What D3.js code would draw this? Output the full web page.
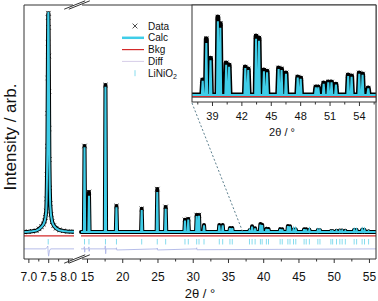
<!DOCTYPE html>
<html>
<head>
<meta charset="utf-8">
<script src="https://cdn.jsdelivr.net/npm/d3@7"></script>
<style>
  body { margin: 0; background: #fff; }
  svg { display: block; font-family: "Liberation Sans", Arial, sans-serif; }
</style>
</head>
<body>
<svg id="chart" width="378" height="301"></svg>
<script>
'use strict';

// low-angle window around the (003) reflection
var lowTheta = [6.89, 7.00, 7.10, 7.20, 7.27, 7.33, 7.38, 7.41, 7.43, 7.45, 7.46, 7.47, 7.48, 7.485, 7.49, 7.495,
  7.50, 7.505, 7.51, 7.515, 7.52, 7.525, 7.53, 7.54, 7.55, 7.57, 7.60, 7.64, 7.70, 7.78, 7.88, 7.98, 8.15];
var lowObs = [0, 1, 3, 6, 14, 24, 36, 50, 66, 95, 150, 260, 390, 540, 700, 860,
  975, 995, 930, 800, 640, 470, 330, 200, 130, 80, 46, 29, 17, 9, 5, 2, 1];
var lowCalc = [0, 1, 3, 6, 13, 22, 34, 48, 64, 92, 145, 250, 380, 530, 690, 850,
  985, 1000, 925, 790, 630, 460, 320, 195, 125, 77, 44, 28, 16, 8, 4, 2, 1];
var lowDiffTheta = [6.89, 7.44, 7.47, 7.49, 7.50, 7.51, 7.53, 7.56, 8.15];
var lowDiff = [-77, -77, -70, -64, -95, -110, -86, -77, -77];

// main window reflections: position, observed and calculated peak height
var peakPos = [14.65, 15.28, 17.62, 19.18, 22.76, 24.97, 26.16, 28.90, 29.37, 30.56, 30.89, 31.60,
  33.77, 34.25, 35.28, 35.61, 38.05, 38.42, 38.85, 39.60, 39.85, 40.45, 40.75, 42.40, 42.70,
  43.50, 43.80, 44.30, 44.62, 45.80, 46.10, 46.55, 47.75, 48.05, 49.60, 49.85, 50.40, 50.87,
  51.20, 51.65, 52.90, 53.25, 54.03, 54.37, 54.95];
var peakObs = [391, 182, 668, 118, 105, 195, 114, 55, 59, 77, 77, 32,
  32, 32, 18, 18, 6.9, 26, 17, 36, 33, 14.8, 13.8, 12.9, 12,
  27.2, 26.3, 11.5, 11, 12.5, 12, 10.2, 8.3, 7.8, 3.7, 3.7, 5.5, 6,
  6, 5, 9.2, 8.8, 10.2, 9.7, 3.2];
var peakCalc = [385, 165, 660, 112, 100, 182, 105, 52, 56, 72, 74, 30,
  30, 30, 17, 17, 6.5, 24, 16, 34, 31, 14, 13, 12.5, 11.5,
  26, 25, 11, 10.5, 12, 11.5, 9.8, 8, 7.5, 3.5, 3.5, 5.2, 5.8,
  5.8, 4.8, 8.8, 8.4, 9.8, 9.3, 3];

var diffTheta = [14.15, 14.58, 14.63, 14.67, 14.72, 15.23, 15.27, 15.31, 15.35, 17.55, 17.60, 17.65, 17.70,
  19.14, 19.18, 19.22, 24.93, 24.97, 25.01, 30.52, 30.56, 30.60, 56.0];
var diffVal = [-77, -77, -67, -92, -77, -77, -68, -88, -77, -77, -63, -99, -77,
  -77, -72, -82, -77, -73, -82, -77, -72, -81, -77];

var reflPos = [7.5].concat(peakPos);
var bkgMain = [-18, -18];
var bkgInset = [-0.7, -0.7];

var lowTicks = [7.0, 7.5, 8.0], lowMinor = [7.25, 7.75];
var highTicks = [15, 20, 25, 30, 35, 40, 45, 50, 55];
var highMinor = [17.5, 22.5, 27.5, 32.5, 37.5, 42.5, 47.5, 52.5];
var insetTicks = [39, 42, 45, 48, 51, 54];
var insetMinor = [37.5, 40.5, 43.5, 46.5, 49.5, 52.5, 55.5];

var legendItems = ['Data', 'Calc', 'Bkg', 'Diff', 'LiNiO'];

var C_CALC = '#3fcde8', C_BKG = '#d42a2a', C_DIFF = '#aeb6e6', C_REFL = '#86dcee', C_AX = '#333';
var HW = 0.09;  // drawn half-width of a reflection, deg

var svg = d3.select('#chart');
var frame = { l: 24, r: 376, t: 5, b: 259 };

var xLow = d3.scaleLinear().domain([6.89, 8.15]).range([frame.l, 74]);
var xHigh = d3.scaleLinear().domain([14.15, 56.0]).range([81, frame.r]);
var y = d3.scaleLinear().domain([-123, 1032]).range([frame.b, frame.t]);

var ins = { l: 192, r: 376, t: 5, b: 102 };
var xIn = d3.scaleLinear().domain([36.96, 55.74]).range([ins.l, ins.r]);
var yIn = d3.scaleLinear().domain([-3.23, 41.54]).range([ins.b, ins.t]);

function peakPoints(hts, lo, hi) {
  var pts = [[lo, 0]];
  peakPos.forEach(function(p, i) {
    pts.push([p - HW, 0], [p, hts[i]], [p + HW, 0]);
  });
  pts.push([hi, 0]);
  return pts;
}

function cross(g, pts, x, yy, s) {
  g.selectAll(null).data(pts).enter().append('path')
    .attr('d', 'M' + -s + ',' + -s + 'L' + s + ',' + s + 'M' + -s + ',' + s + 'L' + s + ',' + -s)
    .attr('transform', function(d) { return 'translate(' + x(d[0]) + ',' + yy(d[1]) + ')'; })
    .attr('stroke', '#000').attr('stroke-width', 0.8).attr('fill', 'none');
}

function line(x, yy) {
  return d3.line().x(function(d) { return x(d[0]); }).y(function(d) { return yy(d[1]); });
}

function drawPanel(g, x, yy, lo, hi, obs, calc, diff, bkg, refl, band, markers) {
  g.append('path').datum(diff).attr('d', line(x, yy))
    .attr('fill', 'none').attr('stroke', C_DIFF).attr('stroke-width', 0.9);
  if (refl) {
    g.selectAll(null).data(refl.filter(function(p) { return p >= lo && p <= hi; })).enter().append('line')
      .attr('x1', function(d) { return x(d); }).attr('x2', function(d) { return x(d); })
      .attr('y1', yy(-32)).attr('y2', yy(-57))
      .attr('stroke', C_REFL).attr('stroke-width', 1);
  }
  g.append('path').datum(obs).attr('d', line(x, yy))
    .attr('fill', 'none').attr('stroke', '#000').attr('stroke-width', band)
    .attr('stroke-linejoin', 'round').attr('stroke-linecap', 'round');
  cross(g, markers, x, yy, 2.2);
  g.append('path').datum(calc).attr('d', line(x, yy))
    .attr('fill', 'none').attr('stroke', C_CALC).attr('stroke-width', 2);
  g.append('path').datum([[lo, bkg[0]], [hi, bkg[1]]]).attr('d', line(x, yy))
    .attr('fill', 'none').attr('stroke', C_BKG).attr('stroke-width', 1.2);
}

// clip regions
var defs = svg.append('defs');
defs.append('clipPath').attr('id', 'cLow').append('rect')
  .attr('x', frame.l).attr('y', frame.t).attr('width', 74 - frame.l).attr('height', frame.b - frame.t);
defs.append('clipPath').attr('id', 'cHigh').append('rect')
  .attr('x', 78).attr('y', frame.t).attr('width', frame.r - 78).attr('height', frame.b - frame.t);
defs.append('clipPath').attr('id', 'cIn').append('rect')
  .attr('x', ins.l).attr('y', ins.t).attr('width', ins.r - ins.l).attr('height', ins.b - ins.t);

// low-angle segment
var lowObsPts = lowTheta.map(function(t, i) { return [t, lowObs[i]]; });
var lowCalcPts = lowTheta.map(function(t, i) { return [t, lowCalc[i]]; });
var lowDiffPts = lowDiffTheta.map(function(t, i) { return [t, lowDiff[i]]; });
drawPanel(svg.append('g').attr('clip-path', 'url(#cLow)'), xLow, y, 6.89, 8.15,
  lowObsPts, lowCalcPts, lowDiffPts, bkgMain, reflPos, 4, lowObsPts);

// main segment
var obsPts = peakPoints(peakObs, 14.15, 56);
var calcPts = peakPoints(peakCalc, 14.15, 56);
var diffPts = diffTheta.map(function(t, i) { return [t, diffVal[i]]; });
var tops = peakPos.map(function(p, i) { return [p, peakObs[i]]; });
drawPanel(svg.append('g').attr('clip-path', 'url(#cHigh)'), xHigh, y, 14.15, 56,
  obsPts, calcPts, diffPts, bkgMain, reflPos, 4, tops.filter(function(d) { return d[1] > 40; }));

// frame with axis break
var ax = svg.append('g').attr('stroke', C_AX).attr('stroke-width', 1).attr('fill', 'none');
[frame.t, frame.b].forEach(function(yy) {
  ax.append('line').attr('x1', frame.l).attr('x2', 73).attr('y1', yy).attr('y2', yy);
  ax.append('line').attr('x1', 82).attr('x2', frame.r).attr('y1', yy).attr('y2', yy);
  [-2.3, 2.3].forEach(function(o) {
    ax.append('line').attr('x1', 77 + o - 10.5).attr('y1', yy + 4.2)
      .attr('x2', 77 + o + 10.5).attr('y2', yy - 4.2);
  });
});
ax.append('line').attr('x1', frame.l).attr('x2', frame.l).attr('y1', frame.t).attr('y2', frame.b);
ax.append('line').attr('x1', frame.r).attr('x2', frame.r).attr('y1', frame.t).attr('y2', frame.b);

function axis(scale, major, minor, yy, fmt, size, pad) {
  var g = svg.append('g').attr('transform', 'translate(0,' + yy + ')');
  g.append('g').call(d3.axisBottom(scale).tickValues(minor).tickFormat('').tickSize(2.5));
  g.append('g').call(d3.axisBottom(scale).tickValues(major).tickFormat(fmt).tickSize(4).tickPadding(pad));
  g.selectAll('.domain').remove();
  g.selectAll('.tick line').attr('stroke', C_AX);
  g.selectAll('text').attr('font-size', size).attr('font-family', '"Liberation Sans", Arial, sans-serif').attr('fill', '#111');
  return g;
}
axis(xLow, lowTicks, lowMinor, frame.b, d3.format('.1f'), 12, 9);
axis(xHigh, highTicks, highMinor, frame.b, d3.format('d'), 12, 9);

svg.append('text').attr('x', 200).attr('y', 298).attr('text-anchor', 'middle')
  .attr('font-size', 13).attr('fill', '#111').text('2θ / °');
svg.append('text').attr('transform', 'translate(16,137) rotate(-90)').attr('text-anchor', 'middle')
  .attr('font-size', 17).attr('fill', '#111').text('Intensity / arb.');

// zoom connector
svg.append('line').attr('x1', xIn(36.96)).attr('y1', ins.b + 1)
  .attr('x2', xHigh(37.1)).attr('y2', y(0))
  .attr('stroke', '#5d7f8e').attr('stroke-width', 1).attr('stroke-dasharray', '2,2');

// inset
svg.append('rect').attr('x', ins.l).attr('y', ins.t).attr('width', ins.r - ins.l).attr('height', ins.b - ins.t)
  .attr('fill', '#fff');
drawPanel(svg.append('g').attr('clip-path', 'url(#cIn)'), xIn, yIn, 36.96, 55.74,
  obsPts, calcPts, [], bkgInset, null, 5, tops.filter(function(d) { return d[0] > 37; }));
svg.append('rect').attr('x', ins.l).attr('y', ins.t).attr('width', ins.r - ins.l).attr('height', ins.b - ins.t)
  .attr('fill', 'none').attr('stroke', C_AX).attr('stroke-width', 1);
axis(xIn, insetTicks, insetMinor, ins.b, d3.format('d'), 11, 6);
svg.append('text').attr('x', 282).attr('y', 136).attr('text-anchor', 'middle')
  .attr('font-size', 11).attr('fill', '#111').text('2θ / °');

// legend
var lg = svg.append('g').attr('font-size', 10).attr('fill', '#111');
legendItems.forEach(function(name, i) {
  var yy = 26 + i * 11.8;
  var t = lg.append('text').attr('x', 148).attr('y', yy + 3.6).text(name);
  if (i === 4) t.append('tspan').attr('font-size', 7).attr('dy', 2.5).text('2');
  if (i === 0) {
    lg.append('path').attr('d', 'M-2.4,-2.4L2.4,2.4M-2.4,2.4L2.4,-2.4')
      .attr('transform', 'translate(135,' + yy + ')').attr('stroke', '#222').attr('stroke-width', 0.8);
  } else if (i === 4) {
    lg.append('line').attr('x1', 135).attr('x2', 135).attr('y1', yy - 3).attr('y2', yy + 3)
      .attr('stroke', C_REFL).attr('stroke-width', 1);
  } else {
    lg.append('line').attr('x1', 122).attr('x2', 144).attr('y1', yy).attr('y2', yy)
      .attr('stroke', [null, C_CALC, C_BKG, '#d6cde8'][i]).attr('stroke-width', [0, 2.5, 1.2, 1][i]);
  }
});
</script>
</body>
</html>
